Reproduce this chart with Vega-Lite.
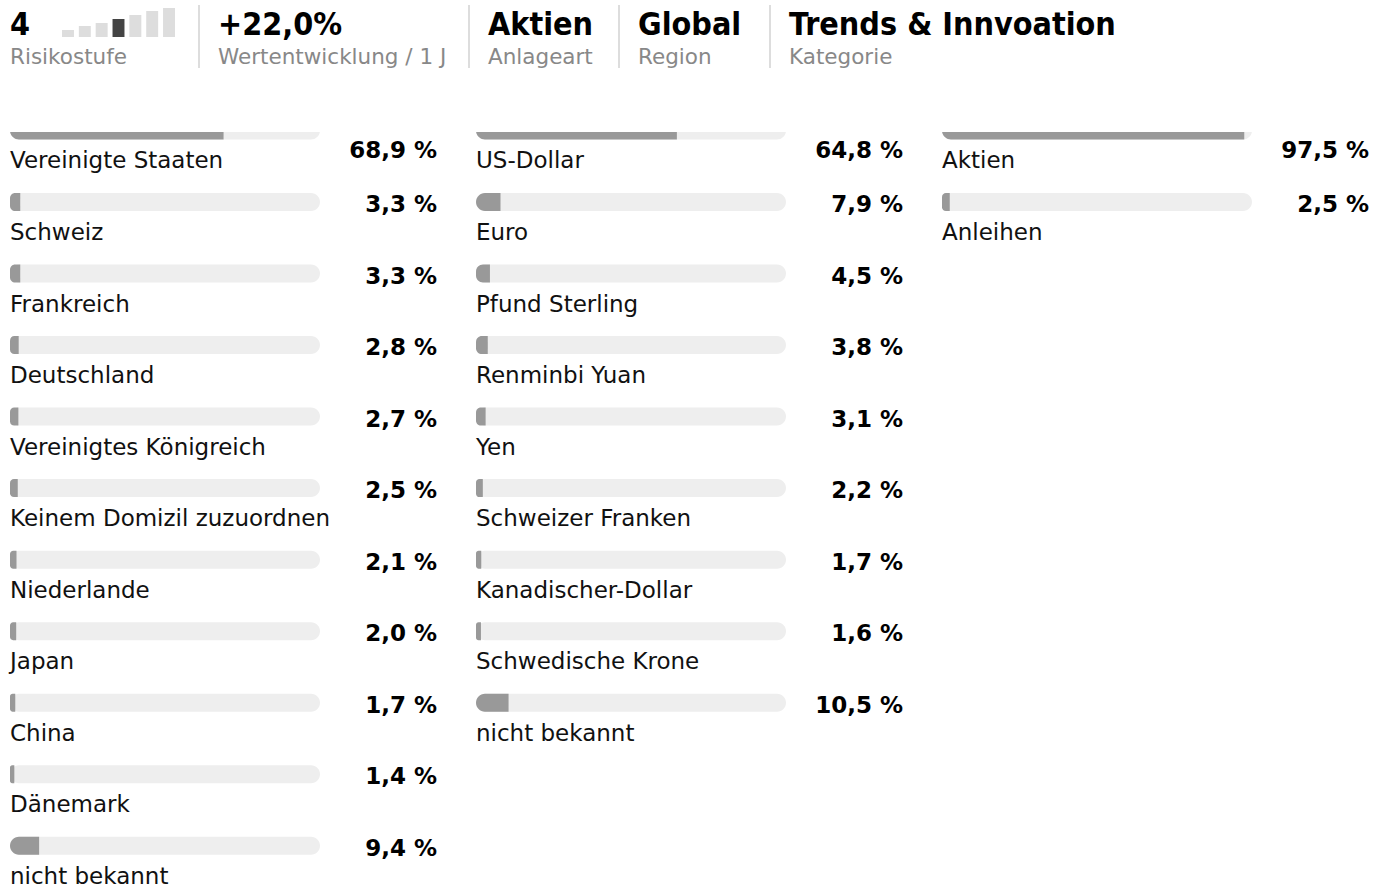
{
  "$schema": "https://vega.github.io/schema/vega-lite/v6.json",
  "padding": {"left": 10, "top": 0, "right": 0, "bottom": 0},
  "background": "white",
  "bounds": "flush",
  "spacing": 132,
  "config": {
    "view": {"stroke": null},
    "text": {"font": "DejaVu Sans", "color": "#111111"},
    "locale": {"number": {"decimal": ",", "thousands": ".", "grouping": [3], "currency": ["", " €"], "percent": " %"}}
  },
  "datasets": {
    "kennzahlen": [
      {"wert": "4", "bez": "Risikostufe"},
      {"wert": "+22,0%", "bez": "Wertentwicklung / 1 J"},
      {"wert": "Aktien", "bez": "Anlageart"},
      {"wert": "Global", "bez": "Region"},
      {"wert": "Trends & Innvoation", "bez": "Kategorie"}
    ],
    "risiko": [
      {"stufe": 1, "h": 7},
      {"stufe": 2, "h": 11},
      {"stufe": 3, "h": 14},
      {"stufe": 4, "h": 18},
      {"stufe": 5, "h": 22},
      {"stufe": 6, "h": 26},
      {"stufe": 7, "h": 29}
    ],
    "laender": [
      {"rang": 1, "name": "Vereinigte Staaten", "anteil": 0.689},
      {"rang": 2, "name": "Schweiz", "anteil": 0.033},
      {"rang": 3, "name": "Frankreich", "anteil": 0.033},
      {"rang": 4, "name": "Deutschland", "anteil": 0.028},
      {"rang": 5, "name": "Vereinigtes Königreich", "anteil": 0.027},
      {"rang": 6, "name": "Keinem Domizil zuzuordnen", "anteil": 0.025},
      {"rang": 7, "name": "Niederlande", "anteil": 0.021},
      {"rang": 8, "name": "Japan", "anteil": 0.020},
      {"rang": 9, "name": "China", "anteil": 0.017},
      {"rang": 10, "name": "Dänemark", "anteil": 0.014},
      {"rang": 11, "name": "nicht bekannt", "anteil": 0.094}
    ],
    "waehrungen": [
      {"rang": 1, "name": "US-Dollar", "anteil": 0.648},
      {"rang": 2, "name": "Euro", "anteil": 0.079},
      {"rang": 3, "name": "Pfund Sterling", "anteil": 0.045},
      {"rang": 4, "name": "Renminbi Yuan", "anteil": 0.038},
      {"rang": 5, "name": "Yen", "anteil": 0.031},
      {"rang": 6, "name": "Schweizer Franken", "anteil": 0.022},
      {"rang": 7, "name": "Kanadischer-Dollar", "anteil": 0.017},
      {"rang": 8, "name": "Schwedische Krone", "anteil": 0.016},
      {"rang": 9, "name": "nicht bekannt", "anteil": 0.105}
    ],
    "anlageklassen": [
      {"rang": 1, "name": "Aktien", "anteil": 0.975},
      {"rang": 2, "name": "Anleihen", "anteil": 0.025}
    ]
  },
  "vconcat": [
    {
      "spacing": 0,
      "bounds": "flush",
      "hconcat": [
        {
          "width": 189,
          "height": 37,
          "layer": [
            {
              "data": {"name": "risiko"},
              "mark": {"type": "bar"},
              "encoding": {
                "x": {"field": "stufe", "type": "ordinal", "axis": null, "scale": {"type": "band", "range": [52, 165], "paddingInner": 0.29, "paddingOuter": 0}},
                "y": {"field": "h", "type": "quantitative", "axis": null, "scale": {"domain": [0, 37], "nice": false}},
                "color": {"condition": {"test": "datum.stufe === 4", "value": "#444444"}, "value": "#dddddd"}
              }
            },
            {
              "data": {"name": "kennzahlen"},
              "transform": [{"filter": "datum.bez === 'Risikostufe'"}],
              "mark": {"type": "text", "align": "left", "baseline": "alphabetic", "font": "DejaVu Sans Condensed, DejaVu Sans", "fontWeight": "bold", "fontSize": 32, "color": "#000000"},
              "encoding": {"x": {"value": 0}, "y": {"value": 35}, "text": {"field": "wert"}}
            },
            {
              "data": {"name": "kennzahlen"},
              "transform": [{"filter": "datum.bez === 'Risikostufe'"}],
              "mark": {"type": "text", "align": "left", "baseline": "alphabetic", "fontSize": 21.5, "color": "#888888"},
              "encoding": {"x": {"value": 0}, "y": {"value": 64}, "text": {"field": "bez"}}
            }
          ]
        },
        {
          "width": 270,
          "height": 37,
          "data": {"name": "kennzahlen"},
          "transform": [{"filter": "datum.bez === 'Wertentwicklung / 1 J'"}],
          "layer": [
            {"mark": {"type": "rule", "color": "#dddddd", "strokeWidth": 2}, "encoding": {"x": {"value": 0}, "y": {"value": 5}, "y2": {"value": 68}}},
            {"mark": {"type": "text", "align": "left", "baseline": "alphabetic", "font": "DejaVu Sans Condensed, DejaVu Sans", "fontWeight": "bold", "fontSize": 32, "color": "#000000"}, "encoding": {"x": {"value": 19}, "y": {"value": 35}, "text": {"field": "wert"}}},
            {"mark": {"type": "text", "align": "left", "baseline": "alphabetic", "fontSize": 21.5, "color": "#888888"}, "encoding": {"x": {"value": 19}, "y": {"value": 64}, "text": {"field": "bez"}}}
          ]
        },
        {
          "width": 150,
          "height": 37,
          "data": {"name": "kennzahlen"},
          "transform": [{"filter": "datum.bez === 'Anlageart'"}],
          "layer": [
            {"mark": {"type": "rule", "color": "#dddddd", "strokeWidth": 2}, "encoding": {"x": {"value": 0}, "y": {"value": 5}, "y2": {"value": 68}}},
            {"mark": {"type": "text", "align": "left", "baseline": "alphabetic", "font": "DejaVu Sans Condensed, DejaVu Sans", "fontWeight": "bold", "fontSize": 32, "color": "#000000"}, "encoding": {"x": {"value": 19}, "y": {"value": 35}, "text": {"field": "wert"}}},
            {"mark": {"type": "text", "align": "left", "baseline": "alphabetic", "fontSize": 21.5, "color": "#888888"}, "encoding": {"x": {"value": 19}, "y": {"value": 64}, "text": {"field": "bez"}}}
          ]
        },
        {
          "width": 151,
          "height": 37,
          "data": {"name": "kennzahlen"},
          "transform": [{"filter": "datum.bez === 'Region'"}],
          "layer": [
            {"mark": {"type": "rule", "color": "#dddddd", "strokeWidth": 2}, "encoding": {"x": {"value": 0}, "y": {"value": 5}, "y2": {"value": 68}}},
            {"mark": {"type": "text", "align": "left", "baseline": "alphabetic", "font": "DejaVu Sans Condensed, DejaVu Sans", "fontWeight": "bold", "fontSize": 32, "color": "#000000"}, "encoding": {"x": {"value": 19}, "y": {"value": 35}, "text": {"field": "wert"}}},
            {"mark": {"type": "text", "align": "left", "baseline": "alphabetic", "fontSize": 21.5, "color": "#888888"}, "encoding": {"x": {"value": 19}, "y": {"value": 64}, "text": {"field": "bez"}}}
          ]
        },
        {
          "width": 400,
          "height": 37,
          "data": {"name": "kennzahlen"},
          "transform": [{"filter": "datum.bez === 'Kategorie'"}],
          "layer": [
            {"mark": {"type": "rule", "color": "#dddddd", "strokeWidth": 2}, "encoding": {"x": {"value": 0}, "y": {"value": 5}, "y2": {"value": 68}}},
            {"mark": {"type": "text", "align": "left", "baseline": "alphabetic", "font": "DejaVu Sans Condensed, DejaVu Sans", "fontWeight": "bold", "fontSize": 32, "color": "#000000"}, "encoding": {"x": {"value": 19}, "y": {"value": 35}, "text": {"field": "wert"}}},
            {"mark": {"type": "text", "align": "left", "baseline": "alphabetic", "fontSize": 21.5, "color": "#888888"}, "encoding": {"x": {"value": 19}, "y": {"value": 64}, "text": {"field": "bez"}}}
          ]
        }
      ]
    },
    {
      "spacing": 39,
      "bounds": "flush",
      "hconcat": [
        {
          "width": 427,
          "height": 751,
          "data": {"name": "laender"},
          "encoding": {"y": {"field": "rang", "type": "quantitative", "axis": null, "scale": {"domain": [1.021, 11.521], "reverse": true, "nice": false, "zero": false, "padding": 0}}},
          "layer": [
            {"mark": {"type": "bar", "orient": "horizontal", "height": 18, "cornerRadius": 9, "color": "#eeeeee", "clip": true},
             "encoding": {"x": {"datum": 1, "type": "quantitative", "axis": null, "scale": {"domain": [0, 1.3774], "nice": false, "padding": 0}}}},
            {"mark": {"type": "bar", "orient": "horizontal", "height": 18, "cornerRadiusTopLeft": 9, "cornerRadiusBottomLeft": 9, "color": "#999999", "clip": true},
             "encoding": {"x": {"field": "anteil", "type": "quantitative", "stack": null}}},
            {"mark": {"type": "text", "align": "left", "baseline": "alphabetic", "dy": 38, "fontSize": 23},
             "encoding": {"x": {"datum": 0, "type": "quantitative"}, "text": {"field": "name"}}},
            {"transform": [{"filter": "datum.rang > 1"}],
             "mark": {"type": "text", "align": "right", "baseline": "alphabetic", "dy": 10, "fontSize": 23, "fontWeight": "bold", "color": "#000000"},
             "encoding": {"x": {"value": "width"}, "text": {"field": "anteil", "type": "quantitative", "format": ".1%"}}},
            {"transform": [{"filter": "datum.rang === 1"}],
             "mark": {"type": "text", "align": "right", "baseline": "alphabetic", "dy": 28, "fontSize": 23, "fontWeight": "bold", "color": "#000000"},
             "encoding": {"x": {"value": "width"}, "text": {"field": "anteil", "type": "quantitative", "format": ".1%"}}}
          ]
        },
        {
          "width": 427,
          "height": 751,
          "data": {"name": "waehrungen"},
          "encoding": {"y": {"field": "rang", "type": "quantitative", "axis": null, "scale": {"domain": [1.021, 11.521], "reverse": true, "nice": false, "zero": false, "padding": 0}}},
          "layer": [
            {"mark": {"type": "bar", "orient": "horizontal", "height": 18, "cornerRadius": 9, "color": "#eeeeee", "clip": true},
             "encoding": {"x": {"datum": 1, "type": "quantitative", "axis": null, "scale": {"domain": [0, 1.3774], "nice": false, "padding": 0}}}},
            {"mark": {"type": "bar", "orient": "horizontal", "height": 18, "cornerRadiusTopLeft": 9, "cornerRadiusBottomLeft": 9, "color": "#999999", "clip": true},
             "encoding": {"x": {"field": "anteil", "type": "quantitative", "stack": null}}},
            {"mark": {"type": "text", "align": "left", "baseline": "alphabetic", "dy": 38, "fontSize": 23},
             "encoding": {"x": {"datum": 0, "type": "quantitative"}, "text": {"field": "name"}}},
            {"transform": [{"filter": "datum.rang > 1"}],
             "mark": {"type": "text", "align": "right", "baseline": "alphabetic", "dy": 10, "fontSize": 23, "fontWeight": "bold", "color": "#000000"},
             "encoding": {"x": {"value": "width"}, "text": {"field": "anteil", "type": "quantitative", "format": ".1%"}}},
            {"transform": [{"filter": "datum.rang === 1"}],
             "mark": {"type": "text", "align": "right", "baseline": "alphabetic", "dy": 28, "fontSize": 23, "fontWeight": "bold", "color": "#000000"},
             "encoding": {"x": {"value": "width"}, "text": {"field": "anteil", "type": "quantitative", "format": ".1%"}}}
          ]
        },
        {
          "width": 427,
          "height": 751,
          "data": {"name": "anlageklassen"},
          "encoding": {"y": {"field": "rang", "type": "quantitative", "axis": null, "scale": {"domain": [1.021, 11.521], "reverse": true, "nice": false, "zero": false, "padding": 0}}},
          "layer": [
            {"mark": {"type": "bar", "orient": "horizontal", "height": 18, "cornerRadius": 9, "color": "#eeeeee", "clip": true},
             "encoding": {"x": {"datum": 1, "type": "quantitative", "axis": null, "scale": {"domain": [0, 1.3774], "nice": false, "padding": 0}}}},
            {"mark": {"type": "bar", "orient": "horizontal", "height": 18, "cornerRadiusTopLeft": 9, "cornerRadiusBottomLeft": 9, "color": "#999999", "clip": true},
             "encoding": {"x": {"field": "anteil", "type": "quantitative", "stack": null}}},
            {"mark": {"type": "text", "align": "left", "baseline": "alphabetic", "dy": 38, "fontSize": 23},
             "encoding": {"x": {"datum": 0, "type": "quantitative"}, "text": {"field": "name"}}},
            {"transform": [{"filter": "datum.rang > 1"}],
             "mark": {"type": "text", "align": "right", "baseline": "alphabetic", "dy": 10, "fontSize": 23, "fontWeight": "bold", "color": "#000000"},
             "encoding": {"x": {"value": "width"}, "text": {"field": "anteil", "type": "quantitative", "format": ".1%"}}},
            {"transform": [{"filter": "datum.rang === 1"}],
             "mark": {"type": "text", "align": "right", "baseline": "alphabetic", "dy": 28, "fontSize": 23, "fontWeight": "bold", "color": "#000000"},
             "encoding": {"x": {"value": "width"}, "text": {"field": "anteil", "type": "quantitative", "format": ".1%"}}}
          ]
        }
      ]
    }
  ]
}
